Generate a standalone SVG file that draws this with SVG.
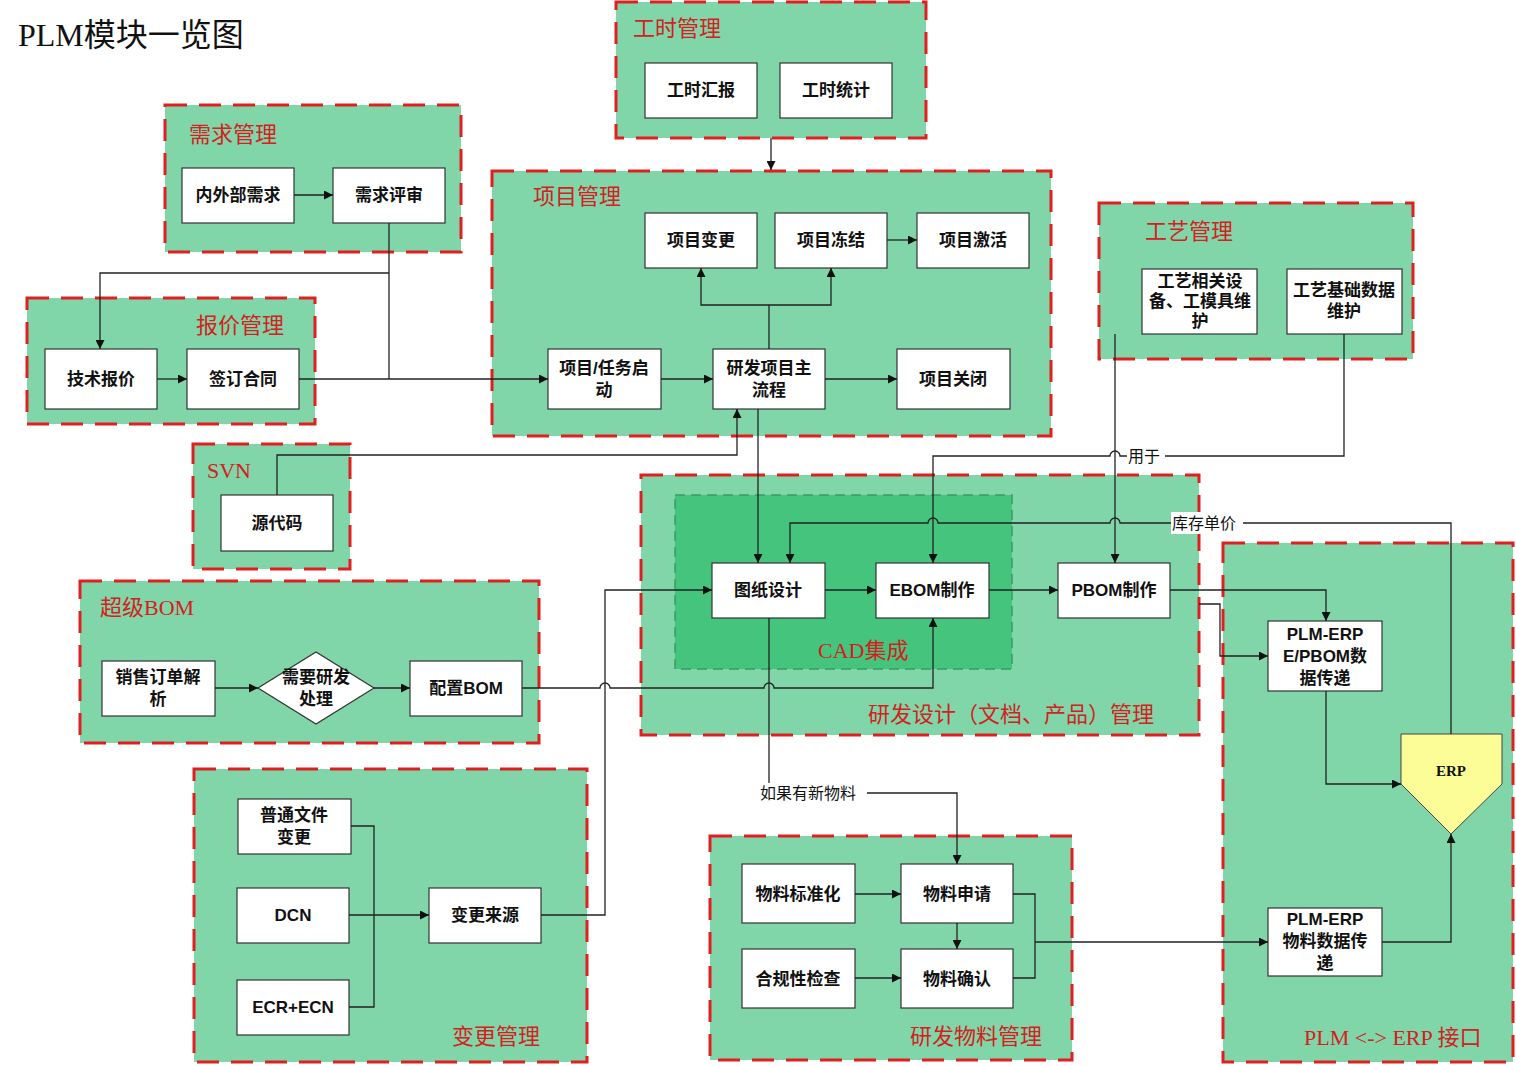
<svg xmlns="http://www.w3.org/2000/svg" width="1516" height="1066" viewBox="0 0 1516 1066">
<style>
.g{fill:#80d6a8;stroke:#e02020;stroke-width:3;stroke-dasharray:22,12}
.cad{fill:#45c47e;stroke:#3a9a60;stroke-width:1.5;stroke-dasharray:10,6}
.b{fill:#fff;stroke:#333;stroke-width:1.2}
.t{font-family:"Liberation Sans","Noto Sans CJK SC",sans-serif;font-size:17px;font-weight:bold;fill:#111;text-anchor:middle}
.h{font-family:"Liberation Serif","Noto Sans CJK SC",serif;font-size:22px;fill:#d42020}
.l{fill:none;stroke:#222;stroke-width:1.3}
.a{fill:none;stroke:#222;stroke-width:1.3;marker-end:url(#ar)}
.lab{font-family:"Liberation Serif","Noto Sans CJK SC",serif;font-size:16px;fill:#111}
</style>
<defs><marker id="ar" viewBox="0 0 10 10" refX="10" refY="5" markerWidth="9" markerHeight="9" markerUnits="userSpaceOnUse" orient="auto"><path d="M0,0L10,5L0,10z" fill="#111"/></marker></defs>
<rect width="1516" height="1066" fill="#fff"/>
<text x="18" y="46" font-family="Liberation Serif,Noto Sans CJK SC,serif" font-size="32" fill="#111">PLM模块一览图</text>

<g id="g-gongshi"><rect class="g" x="616" y="2" width="310" height="136"/><text class="h" x="633" y="36">工时管理</text>
<rect class="b" x="645" y="63" width="112" height="55"/><text class="t" x="701" y="96">工时汇报</text>
<rect class="b" x="780" y="63" width="112" height="55"/><text class="t" x="836" y="96">工时统计</text></g>

<g id="g-xuqiu"><rect class="g" x="165" y="105" width="296" height="147"/><text class="h" x="189" y="142">需求管理</text>
<rect class="b" x="182" y="168" width="112" height="55"/><text class="t" x="238" y="201">内外部需求</text>
<rect class="b" x="333" y="168" width="112" height="55"/><text class="t" x="389" y="201">需求评审</text></g>

<g id="g-xiangmu"><rect class="g" x="492" y="171" width="559" height="265"/><text class="h" x="533" y="204">项目管理</text>
<rect class="b" x="645" y="213" width="112" height="55"/><text class="t" x="701" y="246">项目变更</text>
<rect class="b" x="775" y="213" width="112" height="55"/><text class="t" x="831" y="246">项目冻结</text>
<rect class="b" x="917" y="213" width="112" height="55"/><text class="t" x="973" y="246">项目激活</text>
<rect class="b" x="548" y="349" width="113" height="60"/><text class="t" x="604" y="374">项目/任务启</text><text class="t" x="604" y="396">动</text>
<rect class="b" x="713" y="349" width="112" height="60"/><text class="t" x="769" y="374">研发项目主</text><text class="t" x="769" y="396">流程</text>
<rect class="b" x="897" y="349" width="113" height="60"/><text class="t" x="953" y="385">项目关闭</text></g>

<g id="g-gongyi"><rect class="g" x="1099" y="203" width="314" height="156"/><text class="h" x="1145" y="239">工艺管理</text>
<rect class="b" x="1142" y="269" width="115" height="65"/><text class="t" x="1200" y="287">工艺相关设</text><text class="t" x="1200" y="307">备、工模具维</text><text class="t" x="1200" y="327">护</text>
<rect class="b" x="1287" y="269" width="115" height="65"/><text class="t" x="1344" y="296">工艺基础数据</text><text class="t" x="1344" y="317">维护</text></g>

<g id="g-baojia"><rect class="g" x="27" y="298" width="288" height="126"/><text class="h" x="196" y="333">报价管理</text>
<rect class="b" x="45" y="349" width="112" height="60"/><text class="t" x="101" y="385">技术报价</text>
<rect class="b" x="187" y="349" width="112" height="60"/><text class="t" x="243" y="385">签订合同</text></g>

<g id="g-svn"><rect class="g" x="193" y="444" width="157" height="125"/><text class="h" x="207" y="478">SVN</text>
<rect class="b" x="221" y="495" width="112" height="56"/><text class="t" x="277" y="529">源代码</text></g>

<g id="g-chaoji"><rect class="g" x="80" y="581" width="459" height="162"/><text class="h" x="100" y="615">超级BOM</text>
<rect class="b" x="102" y="661" width="113" height="55"/><text class="t" x="158" y="683">销售订单解</text><text class="t" x="158" y="705">析</text>
<path class="b" d="M258,688L316,652L374,688L316,724Z"/><text class="t" x="316" y="683">需要研发</text><text class="t" x="316" y="705">处理</text>
<rect class="b" x="410" y="661" width="112" height="55"/><text class="t" x="466" y="694">配置BOM</text></g>

<g id="g-yanfa"><rect class="g" x="641" y="475" width="558" height="260"/>
<rect class="cad" x="675" y="495" width="337" height="174"/><text class="h" x="818" y="658">CAD集成</text>
<text class="h" x="868" y="722">研发设计（文档、产品）管理</text>
<rect class="b" x="712" y="563" width="113" height="55"/><text class="t" x="768" y="596">图纸设计</text>
<rect class="b" x="876" y="563" width="113" height="55"/><text class="t" x="932" y="596">EBOM制作</text>
<rect class="b" x="1058" y="563" width="112" height="55"/><text class="t" x="1114" y="596">PBOM制作</text></g>

<g id="g-biangeng"><rect class="g" x="194" y="769" width="393" height="293"/><text class="h" x="452" y="1044">变更管理</text>
<rect class="b" x="238" y="799" width="113" height="55"/><text class="t" x="294" y="821">普通文件</text><text class="t" x="294" y="843">变更</text>
<rect class="b" x="237" y="888" width="112" height="55"/><text class="t" x="293" y="921">DCN</text>
<rect class="b" x="237" y="980" width="112" height="55"/><text class="t" x="293" y="1013">ECR+ECN</text>
<rect class="b" x="429" y="888" width="112" height="55"/><text class="t" x="485" y="921">变更来源</text></g>

<g id="g-wuliao"><rect class="g" x="710" y="836" width="362" height="224"/><text class="h" x="910" y="1044">研发物料管理</text>
<rect class="b" x="742" y="864" width="113" height="59"/><text class="t" x="798" y="900">物料标准化</text>
<rect class="b" x="901" y="864" width="112" height="59"/><text class="t" x="957" y="900">物料申请</text>
<rect class="b" x="742" y="949" width="113" height="59"/><text class="t" x="798" y="985">合规性检查</text>
<rect class="b" x="901" y="949" width="112" height="59"/><text class="t" x="957" y="985">物料确认</text></g>

<g id="g-erp"><rect class="g" x="1223" y="543" width="290" height="519"/><text class="h" x="1304" y="1045">PLM &lt;-&gt; ERP 接口</text>
<rect class="b" x="1268" y="621" width="114" height="70"/><text class="t" x="1325" y="640">PLM-ERP</text><text class="t" x="1325" y="662">E/PBOM数</text><text class="t" x="1325" y="684">据传递</text>
<rect class="b" x="1268" y="908" width="114" height="68"/><text class="t" x="1325" y="925">PLM-ERP</text><text class="t" x="1325" y="947">物料数据传</text><text class="t" x="1325" y="969">递</text>
<path d="M1401,734L1502,734L1502,784L1451,834L1401,784Z" fill="#fdfd98" stroke="#444" stroke-width="1"/>
<text x="1451" y="776" font-family="Liberation Serif,serif" font-size="15" font-weight="bold" text-anchor="middle" fill="#111">ERP</text></g>

<g id="connectors">
<path class="a" d="M771,138V170"/>
<path class="a" d="M294,195H333"/>
<path class="l" d="M389,223V379"/>
<path class="a" d="M389,273H100V349"/>
<path class="a" d="M157,379H187"/>
<path class="a" d="M299,379H548"/>
<path class="a" d="M661,379H713"/>
<path class="a" d="M825,379H897"/>
<path class="l" d="M769,349V305"/>
<path class="a" d="M769,305H701V268"/>
<path class="a" d="M769,305H831V268"/>
<path class="a" d="M887,240H917"/>
<path class="a" d="M277,495V455H737V409"/>
<path class="a" d="M758,409V563"/>
<path class="a" d="M1115,334V563"/>
<path class="a" d="M1344,334V456H1120A5,5 0 0 0 1110,456H933V563"/>
<path class="a" d="M1451,734V523H1120A5,5 0 0 0 1110,523H938A5,5 0 0 0 928,523H790V563"/>
<rect x="1171" y="512" width="72" height="22" fill="#fff"/>
<text class="lab" x="1172" y="529">库存单价</text>
<rect x="1128" y="446" width="36" height="20" fill="#80d6a8" opacity="0"/>
<rect x="1127" y="446" width="38" height="20" fill="#fff"/>
<text class="lab" x="1128" y="462">用于</text>
<path class="a" d="M825,590H876"/>
<path class="a" d="M989,590H1058"/>
<path class="a" d="M1170,590H1326V621"/>
<path class="a" d="M1199,604H1220V656H1268"/>
<path class="a" d="M1326,691V784H1401"/>
<path class="a" d="M1382,942H1451V834"/>
<path class="a" d="M522,688H600A5,5 0 0 1 610,688H764A5,5 0 0 1 774,688H933V618"/>
<path class="a" d="M541,915H605V590H712"/>
<path class="a" d="M769,618V793H957V864"/>
<rect x="759" y="783" width="108" height="20" fill="#fff"/>
<text class="lab" x="760" y="799">如果有新物料</text>
<path class="l" d="M351,826H374V1007H349"/>
<path class="a" d="M349,915H429"/>
<path class="a" d="M215,688H258"/>
<path class="a" d="M374,688H410"/>
<path class="a" d="M855,894H901"/>
<path class="a" d="M855,978H901"/>
<path class="a" d="M957,923V949"/>
<path class="l" d="M1013,894H1035V978H1013"/>
<path class="a" d="M1035,942H1268"/>
</g>
</svg>
